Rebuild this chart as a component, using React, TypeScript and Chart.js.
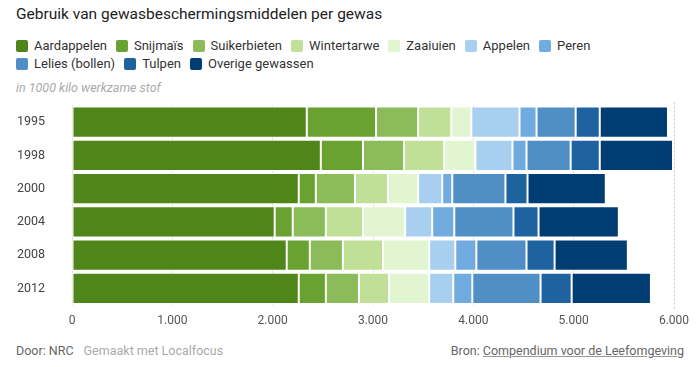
import React, { useEffect, useRef } from "react";
import { Chart, registerables } from "chart.js";

Chart.register(...registerables);

const years = ["1995", "1998", "2000", "2004", "2008", "2012"];
const seriesNames = [
  "Aardappelen",
  "Snijmaïs",
  "Suikerbieten",
  "Wintertarwe",
  "Zaaiuien",
  "Appelen",
  "Peren",
  "Lelies (bollen)",
  "Tulpen",
  "Overige gewassen",
];
const colors = [
  "#4f8519",
  "#6aa232",
  "#8cbb5a",
  "#bfe096",
  "#e1f6d0",
  "#a9cff0",
  "#70abdf",
  "#4f8fc6",
  "#1f62a0",
  "#003d73",
];
const aardappelen = [2340, 2480, 2260, 2020, 2140, 2260];
const snijmais = [690, 420, 170, 180, 230, 270];
const suikerbieten = [420, 410, 390, 330, 330, 330];
const wintertarwe = [330, 400, 330, 370, 400, 300];
const zaaiuien = [200, 310, 300, 420, 460, 400];
const appelen = [480, 370, 240, 270, 260, 240];
const peren = [170, 140, 100, 220, 210, 190];
const lelies = [390, 440, 530, 590, 500, 680];
const tulpen = [240, 290, 220, 250, 280, 310];
const overige = [680, 730, 780, 800, 730, 790];
const seriesValues = [
  aardappelen,
  snijmais,
  suikerbieten,
  wintertarwe,
  zaaiuien,
  appelen,
  peren,
  lelies,
  tulpen,
  overige,
];
const xTicks = [0, 1000, 2000, 3000, 4000, 5000, 6000];

const FONT = "Roboto, 'Noto Sans', sans-serif";

if (typeof document !== "undefined") {
  document.body.style.margin = "0";
}

const dottedLine = {
  id: "dottedLine",
  beforeDatasetsDraw(chart: any) {
    const { ctx, chartArea, scales } = chart;
    const x = Math.round(scales.x.getPixelForValue(6000)) + 0.5;
    ctx.save();
    ctx.strokeStyle = "#c8c8c8";
    ctx.lineWidth = 1;
    ctx.setLineDash([2, 2]);
    ctx.beginPath();
    ctx.moveTo(x, chartArea.top - 3);
    ctx.lineTo(x, chartArea.bottom + 4);
    ctx.stroke();
    ctx.restore();
  },
};

function fmt(v: number) {
  return v === 0 ? "0" : v.toString().replace(/\B(?=(\d{3})+(?!\d))/g, ".");
}

export default function App() {
  const ref = useRef<HTMLCanvasElement | null>(null);

  useEffect(() => {
    if (!ref.current) return;
    const chart = new Chart(ref.current, {
      type: "bar",
      data: {
        labels: years,
        datasets: seriesNames.map((name, i) => ({
          label: name,
          data: seriesValues[i],
          backgroundColor: colors[i],
          borderColor: "#ffffff",
          borderWidth: 1,
          borderSkipped: false,
          barPercentage: 0.94,
          categoryPercentage: 1,
        })),
      },
      options: {
        indexAxis: "y",
        animation: false,
        responsive: false,
        maintainAspectRatio: false,
        layout: { padding: { top: 6, right: 26, bottom: 0, left: 0 } },
        plugins: {
          legend: { display: false },
          tooltip: { enabled: false },
        },
        scales: {
          x: {
            stacked: true,
            min: 0,
            max: 6000,
            afterBuildTicks(scale: any) {
              scale.ticks = xTicks.map((v) => ({ value: v }));
            },
            afterFit(scale: any) {
              scale.height = 30;
            },
            grid: {
              color: (c: any) =>
                c.tick && c.tick.value === 6000 ? "rgba(0,0,0,0)" : "#e2e2e2",
              drawTicks: false,
            },
            border: { display: false },
            ticks: {
              padding: 9,
              color: "#555",
              font: { family: FONT, size: 12 },
              callback: (v: any) => fmt(Number(v)),
            },
          },
          y: {
            stacked: true,
            afterFit(scale: any) {
              scale.width = 72;
            },
            grid: {
              display: true,
              drawOnChartArea: false,
              drawTicks: true,
              tickLength: 24,
              color: "rgba(0,0,0,0)",
            },
            border: { display: false },
            ticks: {
              padding: 3,
              color: "#444",
              font: { family: FONT, size: 12.5 },
            },
          },
        },
      },
      plugins: [dottedLine],
    });
    return () => chart.destroy();
  }, []);

  const legendRow1 = seriesNames.slice(0, 7);
  const legendRow2 = seriesNames.slice(7);

  const legendItem = (name: string) => {
    const idx = seriesNames.indexOf(name);
    return (
      <span
        key={name}
        style={{ display: "inline-flex", alignItems: "center", marginRight: 9 }}
      >
        <span
          style={{
            display: "inline-block",
            width: 12,
            height: 12,
            borderRadius: 2,
            background: colors[idx],
            marginRight: 6,
          }}
        />
        <span>{name}</span>
      </span>
    );
  };

  return (
    <div
      style={{
        position: "relative",
        width: 700,
        height: 367,
        fontFamily: FONT,
        background: "#fff",
        overflow: "hidden",
      }}
    >
      <div
        style={{
          position: "absolute",
          left: 16,
          top: 5,
          fontSize: 15.5,
          color: "#222",
          whiteSpace: "nowrap",
        }}
      >
        Gebruik van gewasbeschermingsmiddelen per gewas
      </div>
      <div
        style={{
          position: "absolute",
          left: 16,
          top: 37,
          fontSize: 13,
          color: "#333",
          lineHeight: "18px",
          whiteSpace: "nowrap",
        }}
      >
        <div style={{ display: "flex" }}>{legendRow1.map(legendItem)}</div>
        <div style={{ display: "flex" }}>{legendRow2.map(legendItem)}</div>
      </div>
      <div
        style={{
          position: "absolute",
          left: 16,
          top: 80,
          fontSize: 12.5,
          fontStyle: "italic",
          color: "#aaa",
          whiteSpace: "nowrap",
        }}
      >
        in 1000 kilo werkzame stof
      </div>
      <canvas
        ref={ref}
        width={700}
        height={240}
        style={{ position: "absolute", left: 0, top: 95, width: 700, height: 240 }}
      />
      <div
        style={{
          position: "absolute",
          left: 16,
          top: 343,
          fontSize: 12.5,
          whiteSpace: "nowrap",
        }}
      >
        <span style={{ color: "#666" }}>Door: NRC</span>
        <span style={{ color: "#aaa", marginLeft: 10 }}>Gemaakt met Localfocus</span>
      </div>
      <div
        style={{
          position: "absolute",
          right: 16,
          top: 343,
          fontSize: 12.5,
          color: "#666",
          whiteSpace: "nowrap",
        }}
      >
        Bron:{" "}
        <span style={{ textDecoration: "underline", textDecorationColor: "#999" }}>
          Compendium voor de Leefomgeving
        </span>
      </div>
    </div>
  );
}
